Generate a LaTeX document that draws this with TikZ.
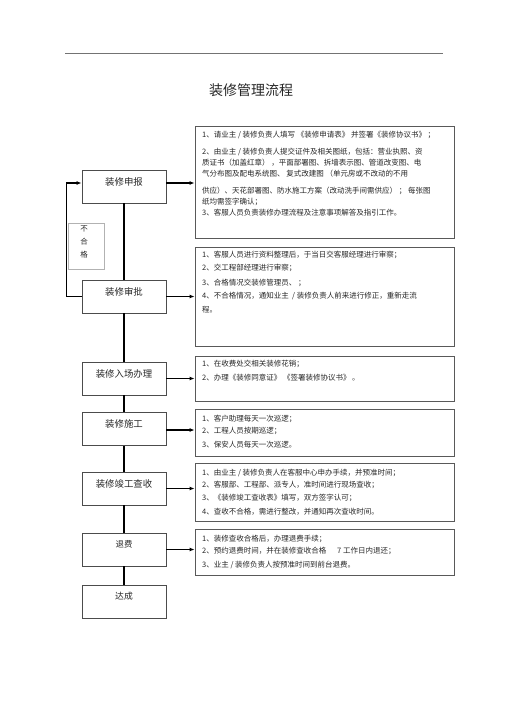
\documentclass[tikz,border=0pt]{standalone}
\usepackage{fontspec}
\setmainfont{Noto Sans CJK SC}
\usetikzlibrary{arrows.meta}
\begin{document}
\begin{tikzpicture}[x=1pt,y=-1pt,
  stepbox/.style={draw=black!70,line width=0.8pt,minimum width=84pt,minimum height=33pt,inner sep=0pt},
  nodetext/.style={font=\fontsize{9.4}{11}\selectfont,text=black!85,yshift=5pt},
  infobox/.style={draw=black!65,line width=0.8pt,minimum width=259pt,inner sep=0pt},
  ln/.style={anchor=west,inner sep=0pt,font=\fontsize{7.5}{9}\selectfont,text=black!85},
  conn/.style={line width=1.6pt,black},
  arr/.style={conn,-{Latex[length=5pt,width=4pt]}}
]
\useasboundingbox (0,0) rectangle (505,714);
% header rule and title
\coordinate (hl) at (65,53);
\coordinate (hr) at (443,53);
\draw[black!55,line width=0.7pt] (hl) -- (hr);
\node[font=\fontsize{14}{16}\selectfont,text=black!85] (title) at (251,90) {装修管理流程};

% left step nodes
\node[stepbox] (n1) at (124,186.5) {};
\node[nodetext] (t1) at (n1) {装修申报};
\node[stepbox] (n2) at (124,296.5) {};
\node[nodetext] (t2) at (n2) {装修审批};
\node[stepbox] (n3) at (124,378.5) {};
\node[nodetext] (t3) at (n3) {装修入场办理};
\node[stepbox] (n4) at (124,429) {};
\node[nodetext] (t4) at (n4) {装修施工};
\node[stepbox] (n5) at (124,488.5) {};
\node[nodetext] (t5) at (n5) {装修竣工查收};
\node[stepbox] (n6) at (124,549.5) {};
\node[nodetext,font=\fontsize{8.4}{10}\selectfont] (t6) at (n6) {退费};
\node[stepbox] (n7) at (124,601.5) {};
\node[nodetext,font=\fontsize{8.8}{10}\selectfont] (t7) at (n7) {达成};

% not-qualified box
\node[draw=black!30,line width=0.5pt,minimum width=36pt,minimum height=46pt,inner sep=0pt] (ng) at (86,246) {};
\node[font=\fontsize{7.5}{13}\selectfont,text=black!85,align=center,inner sep=0pt] (ngt) at (84,242) {不\\合\\格};

% right info boxes
\node[infobox,minimum height=112pt] (b1) at (324.5,182) {};
\node[infobox,minimum height=99pt] (b2) at (324.5,296.5) {};
\node[infobox,minimum height=45pt] (b3) at (324.5,378.5) {};
\node[infobox,minimum height=47pt] (b4) at (324.5,432.5) {};
\node[infobox,minimum height=58pt] (b5) at (324.5,492) {};
\node[infobox,minimum height=46pt] (b6) at (324.5,552) {};

% box 1 text
\node[ln] (b1a) at (202,135) {1、请业主 / 装修负责人填写 《装修申请表》 并签署《装修协议书》 ；};
\node[ln] (b1b) at (202,152) {2、由业主 / 装修负责人提交证件及相关图纸，包括：营业执照、资};
\node[ln] (b1c) at (202,163) {质证书（加盖红章） ，平面部署图、拆墙表示图、管道改变图、电};
\node[ln] (b1d) at (202,174) {气分布图及配电系统图、 复式改建图 （单元房或不改动的不用};
\node[ln] (b1e) at (202,191) {供应）、天花部署图、防水施工方案（改动洗手间需供应） ； 每张图};
\node[ln] (b1f) at (202,202) {纸均需签字确认；};
\node[ln] (b1g) at (202,213) {3、客服人员负责装修办理流程及注意事项解答及指引工作。};
% box 2 text
\node[ln] (b2a) at (202,255) {1、客服人员进行资料整理后，于当日交客服经理进行审察；};
\node[ln] (b2b) at (202,268) {2、交工程部经理进行审察；};
\node[ln] (b2c) at (202,283) {3、合格情况交装修管理员、 ；};
\node[ln] (b2d) at (202,296) {4、不合格情况，通知业主 \ / 装修负责人前来进行修正，重新走流};
\node[ln] (b2e) at (202,310) {程。};
% box 3 text
\node[ln] (b3a) at (202,364) {1、在收费处交相关装修花销；};
\node[ln] (b3b) at (202,378) {2、办理《装修同意证》 《签署装修协议书》 。};
% box 4 text
\node[ln] (b4a) at (202,419) {1、客户助理每天一次巡逻；};
\node[ln] (b4b) at (202,431) {2、工程人员按期巡逻；};
\node[ln] (b4c) at (202,445) {3、保安人员每天一次巡逻。};
% box 5 text
\node[ln] (b5a) at (202,473) {1、由业主 / 装修负责人在客服中心申办手续，并预准时间；};
\node[ln] (b5b) at (202,485) {2、客服部、工程部、派专人，准时间进行现场查收；};
\node[ln] (b5c) at (202,498) {3、《装修竣工查收表》填写，双方签字认可；};
\node[ln] (b5d) at (202,512) {4、查收不合格，需进行整改，并通知再次查收时间。};
% box 6 text
\node[ln] (b6a) at (202,539) {1、装修查收合格后，办理退费手续；};
\node[ln] (b6b) at (202,551) {2、预约退费时间，并在装修查收合格 \quad\ 7 工作日内退还；};
\node[ln] (b6c) at (202,565) {3、业主 / 装修负责人按预准时间到前台退费。};

% vertical chain
\draw[conn] (n1.south) -- (n2.north);
\draw[conn] (n2.south) -- (n3.north);
\draw[conn] (n3.south) -- (n4.north);
\draw[conn] (n4.south) -- (n5.north);
\draw[conn] (n5.south) -- (n6.north);
\draw[conn] (n6.south) -- (n7.north);

% horizontal arrows to info boxes
\draw[arr] ([yshift=3.5pt]n1.east) -- ([yshift=3.5pt]n1.east -| b1.west);
\draw[arr] (n2.east) -- (n2.east -| b2.west);
\draw[arr] (n3.east) -- (n3.east -| b3.west);
\draw[arr] ([yshift=-1pt]n4.east) -- ([yshift=-1pt]n4.east -| b4.west);
\draw[arr] (n5.east) -- (n5.east -| b5.west);
\draw[arr] (n6.east) -- (n6.east -| b6.west);

% feedback loop (not qualified)
\draw[arr] (n2.west) -- ++(-15,0) |- ([yshift=3.5pt]n1.west);
\end{tikzpicture}
\end{document}
